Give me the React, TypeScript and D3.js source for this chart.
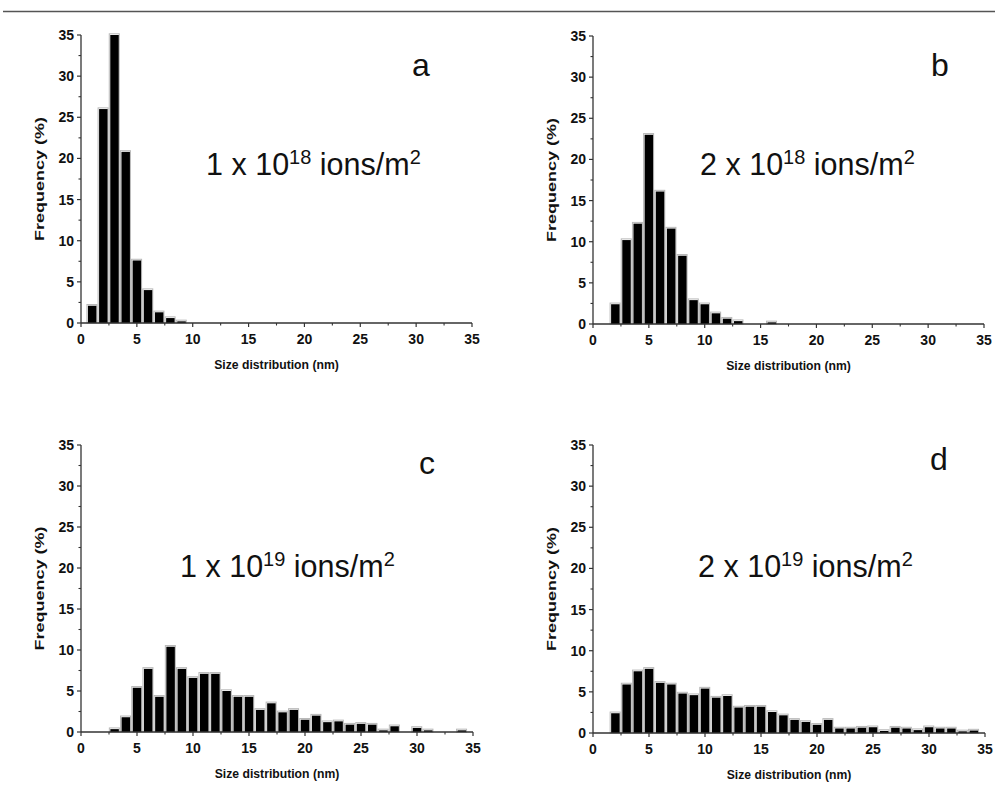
import React from 'react';
import * as d3 from 'd3';

// size bins (nm) and frequencies (%)
const sizesA = [1, 2, 3, 4, 5, 6, 7, 8, 9];
const freqA = [2.1, 26, 35, 20.8, 7.6, 4.0, 1.3, 0.6, 0.2];

const sizesB = [2, 3, 4, 5, 6, 7, 8, 9, 10, 11, 12, 13, 14, 15, 16];
const freqB = [2.4, 10.2, 12.2, 23.0, 16.1, 11.6, 8.3, 2.9, 2.4, 1.3, 0.65, 0.35, 0, 0, 0.2];

const sizesC = d3.range(3, 35);
const freqC = [0.35, 1.8, 5.4, 7.7, 4.3, 10.4, 7.7, 6.6, 7.1, 7.1, 5.0, 4.3, 4.3, 2.7, 3.5, 2.4,
  2.7, 1.5, 2.0, 1.2, 1.3, 0.9, 1.0, 0.9, 0.2, 0.7, 0, 0.5, 0.2, 0, 0, 0.2];

const sizesD = d3.range(2, 35);
const freqD = [2.4, 5.9, 7.5, 7.8, 6.1, 5.9, 4.8, 4.6, 5.4, 4.3, 4.5, 3.1, 3.2, 3.2, 2.55, 2.15,
  1.6, 1.35, 1.0, 1.6, 0.55, 0.55, 0.65, 0.7, 0.25, 0.65, 0.55, 0.35, 0.7, 0.55, 0.55, 0.2, 0.3];

const xTicks = [0, 5, 10, 15, 20, 25, 30, 35];
const yTicks = [0, 5, 10, 15, 20, 25, 30, 35];
const minorTicks = [2.5, 7.5, 12.5, 17.5, 22.5, 27.5, 32.5];

const panelLetters = ['a', 'b', 'c', 'd'];
const doseMantissa = ['1', '2', '1', '2'];
const doseExponent = ['18', '18', '19', '19'];

const font = "'Liberation Sans', Arial, sans-serif";
const axisColor = '#333';

const panels = [
  { sizes: sizesA, freq: freqA, left: 81, right: 472, bottom: 323, top: 35, letterX: 412, letterY: 76, annX: 206, annY: 175, ylabX: 40 },
  { sizes: sizesB, freq: freqB, left: 593, right: 984, bottom: 324, top: 36, letterX: 931, letterY: 76, annX: 700, annY: 175, ylabX: 552 },
  { sizes: sizesC, freq: freqC, left: 81, right: 473, bottom: 732, top: 445, letterX: 419, letterY: 474, annX: 180, annY: 577, ylabX: 40 },
  { sizes: sizesD, freq: freqD, left: 593, right: 985, bottom: 733, top: 445, letterX: 930, letterY: 470, annX: 698, annY: 577, ylabX: 552 },
];

const Panel = ({ p, i }) => {
  const x = d3.scaleLinear().domain([0, 35]).range([p.left, p.right]);
  const y = d3.scaleLinear().domain([0, 35]).range([p.bottom, p.top]);
  const bw = (x(1) - x(0)) * 0.76;

  return (
    <g fontFamily={font}>
      {/* bars: black fill with a light grey rim */}
      {p.sizes.map((s, k) => {
        const v = p.freq[k];
        if (!v) return null;
        const h = p.bottom - y(v);
        return (
          <g key={k}>
            <rect x={x(s) - bw / 2 - 1} y={y(v) - 1.2} width={bw + 1.5} height={h + 1.2}
              fill="none" stroke="#b8b8b8" strokeWidth={1} />
            <rect x={x(s) - bw / 2} y={y(v)} width={bw} height={h} fill="#000" />
          </g>
        );
      })}

      {/* axes */}
      <line x1={p.left} x2={p.right} y1={p.bottom} y2={p.bottom} stroke={axisColor} strokeWidth={1.3} />
      <line x1={p.left} x2={p.left} y1={p.bottom} y2={p.top} stroke={axisColor} strokeWidth={1.3} />

      {xTicks.map(t => (
        <g key={'x' + t}>
          <line x1={x(t)} x2={x(t)} y1={p.bottom} y2={p.bottom + 4} stroke={axisColor} strokeWidth={1.2} />
          <text x={x(t)} y={p.bottom + 21} fontSize={14} fontWeight="bold" textAnchor="middle" fill="#111">{t}</text>
        </g>
      ))}
      {minorTicks.map(t => (
        <line key={'xm' + t} x1={x(t)} x2={x(t)} y1={p.bottom} y2={p.bottom + 2.5} stroke={axisColor} strokeWidth={1.1} />
      ))}
      {yTicks.map(t => (
        <g key={'y' + t}>
          <line x1={p.left - 4} x2={p.left} y1={y(t)} y2={y(t)} stroke={axisColor} strokeWidth={1.2} />
          <text x={p.left - 7} y={y(t)} dy="0.36em" fontSize={14} fontWeight="bold" textAnchor="end" fill="#111">{t}</text>
        </g>
      ))}
      {minorTicks.map(t => (
        <line key={'ym' + t} x1={p.left - 2.5} x2={p.left} y1={y(t)} y2={y(t)} stroke={axisColor} strokeWidth={1.1} />
      ))}

      {/* axis titles */}
      <text x={(p.left + p.right) / 2} y={p.bottom + 46} fontSize={12.2} fontWeight="bold" textAnchor="middle" fill="#111">
        Size distribution (nm)
      </text>
      <text transform={`translate(${p.ylabX + 4},${(p.top + p.bottom) / 2}) rotate(-90)`} fontSize={12.5}
        fontWeight="bold" textAnchor="middle" fill="#111" textLength={124} lengthAdjust="spacingAndGlyphs">
        Frequency (%)
      </text>

      {/* panel letter and dose annotation */}
      <text x={p.letterX} y={p.letterY} fontSize={32} fill="#111">{panelLetters[i]}</text>
      <text x={p.annX} y={p.annY} fontSize={30.5} fill="#111">
        {doseMantissa[i]} x 10
        <tspan fontSize={20} dy={-11}>{doseExponent[i]}</tspan>
        <tspan dy={11}> ions/m</tspan>
        <tspan fontSize={20} dy={-11}>2</tspan>
      </text>
    </g>
  );
};

const App = () => (
  <div style={{ position: 'absolute', left: 0, top: 0 }}>
    <svg width={995} height={787} style={{ display: 'block', background: '#fff' }}>
      <line x1={3} x2={995} y1={11.5} y2={11.5} stroke="#555" strokeWidth={1.5} />
      {panels.map((p, i) => <Panel key={i} p={p} i={i} />)}
    </svg>
  </div>
);

export default App;
